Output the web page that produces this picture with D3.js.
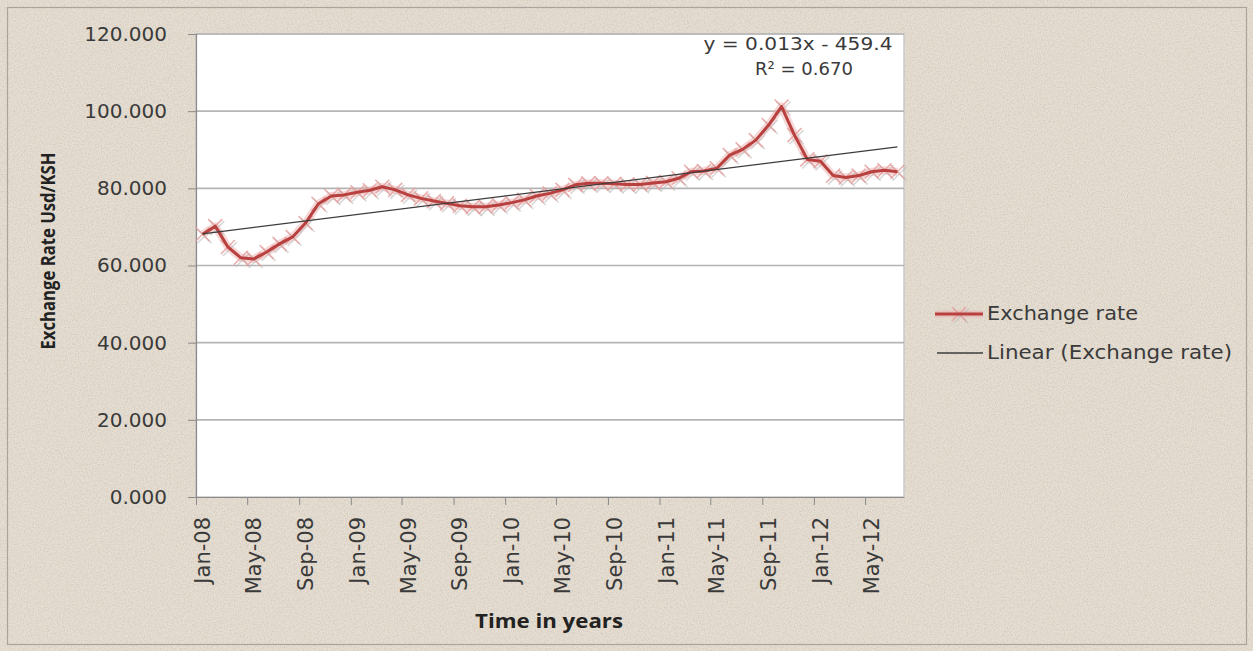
<!DOCTYPE html>
<html><head><meta charset="utf-8">
<script src="https://cdn.jsdelivr.net/npm/d3@7"></script>
<style>html,body{margin:0;padding:0;background:#e6ded2;} svg{display:block}</style>
</head><body>
<svg id="chart" width="1253" height="651"></svg>
<script>
// ---- data ----
const months = [
  "2008-01","2008-02","2008-03","2008-04","2008-05","2008-06","2008-07","2008-08","2008-09","2008-10","2008-11","2008-12",
  "2009-01","2009-02","2009-03","2009-04","2009-05","2009-06","2009-07","2009-08","2009-09","2009-10","2009-11","2009-12",
  "2010-01","2010-02","2010-03","2010-04","2010-05","2010-06","2010-07","2010-08","2010-09","2010-10","2010-11","2010-12",
  "2011-01","2011-02","2011-03","2011-04","2011-05","2011-06","2011-07","2011-08","2011-09","2011-10","2011-11","2011-12",
  "2012-01","2012-02","2012-03","2012-04","2012-05","2012-06","2012-07"
];
const exchangeRate = [
  68.1, 70.2, 64.8, 62.0, 61.7, 63.5, 65.6, 67.4, 71.0, 76.0, 78.0, 78.3,
  79.0, 79.5, 80.4, 79.6, 78.3, 77.4, 76.7, 76.1, 75.5, 75.2, 75.2, 75.7,
  76.3, 77.0, 78.0, 78.7, 79.6, 80.9, 81.3, 81.3, 81.2, 81.0, 81.0, 81.4,
  81.7, 82.6, 84.3, 84.5, 85.2, 88.6, 90.1, 92.5, 96.4, 101.2, 93.8, 87.5,
  87.0, 83.3, 82.8, 83.3, 84.3, 84.7, 84.3
];
const yTickValues = [0, 20, 40, 60, 80, 100, 120];
const xTickLabels = ["Jan-08","May-08","Sep-08","Jan-09","May-09","Sep-09","Jan-10",
                     "May-10","Sep-10","Jan-11","May-11","Sep-11","Jan-12","May-12"];
const equationLines = ["y = 0.013x - 459.4", "R\u00B2 = 0.670"];
const legendLabels = ["Exchange rate", "Linear (Exchange rate)"];
const yTitle = "Exchange Rate Usd/KSH";
const xTitle = "Time in years";

// ---- setup ----
const svg = d3.select("#chart");
const W = 1253, H = 651;
const plot = {left: 196, right: 904, top: 34, bottom: 497};

const defs = svg.append("defs");
const f = defs.append("filter").attr("id","paper").attr("x",0).attr("y",0).attr("width","100%").attr("height","100%");
f.append("feTurbulence").attr("type","fractalNoise").attr("baseFrequency","0.7").attr("numOctaves","2").attr("seed","3").attr("result","n");
f.append("feColorMatrix").attr("type","matrix")
  .attr("values","0 0 0 0 0.45  0 0 0 0 0.40  0 0 0 0 0.33  0 0 0 -1.6 1.0");

svg.append("rect").attr("width",W).attr("height",H).attr("fill","#e6ded2");
svg.append("rect").attr("width",W).attr("height",H).attr("filter","url(#paper)").attr("opacity",0.45);
svg.append("rect").attr("x",7.5).attr("y",7.5).attr("width",1239).attr("height",637)
  .attr("fill","none").attr("stroke","#a9a49c").attr("stroke-width",1.2);

const parseMonth = d3.utcParse("%Y-%m");
const dates = months.map(parseMonth);
const x = d3.scaleUtc()
  .domain([dates[0], d3.utcMonth.offset(dates[dates.length-1], 1)])
  .range([plot.left, plot.right]);
const mid = d => (x(d) + x(d3.utcMonth.offset(d, 1))) / 2;
const y = d3.scaleLinear().domain([0, 120]).range([plot.bottom, plot.top]);

// plot area
svg.append("rect").attr("x",plot.left).attr("y",plot.top)
  .attr("width",plot.right-plot.left).attr("height",plot.bottom-plot.top)
  .attr("fill","#ffffff").attr("stroke","#c9c9c9").attr("stroke-width",1.5);

// gridlines
svg.append("g").selectAll("line").data(yTickValues.filter(v => v > 0)).join("line")
  .attr("x1",plot.left).attr("x2",plot.right)
  .attr("y1",d=>y(d)).attr("y2",d=>y(d))
  .attr("stroke","#b4b4b4").attr("stroke-width",1.6);

// y axis
const yAxis = svg.append("g").attr("transform",`translate(${plot.left},0)`)
  .call(d3.axisLeft(y).tickValues(yTickValues).tickFormat(d3.format(".3f")).tickSize(8).tickPadding(21));
yAxis.select(".domain").attr("stroke","#8a8a8a").attr("stroke-width",1.2);
yAxis.selectAll(".tick line").attr("stroke","#8a8a8a");
yAxis.selectAll("text").attr("font-family","DejaVu Sans").attr("font-size",20).attr("fill","#3a3a3a");

// x axis
const parseTick = d3.utcParse("%b-%y");
const tickDates = xTickLabels.map(parseTick);
const xAxis = svg.append("g").attr("transform",`translate(0,${plot.bottom})`)
  .call(d3.axisBottom(x).tickValues(tickDates).tickFormat("").tickSize(8).tickSizeOuter(0));
xAxis.select(".domain").attr("stroke","#8a8a8a").attr("stroke-width",1.2);
xAxis.selectAll(".tick line").attr("stroke","#8a8a8a");

svg.append("g").selectAll("text").data(tickDates).join("text")
  .attr("transform", (d) => `translate(${mid(d)},${plot.bottom+20}) rotate(-90)`)
  .attr("text-anchor","end").attr("dy","0.36em")
  .attr("font-family","DejaVu Sans").attr("font-size",21).attr("fill","#3a3a3a")
  .text((d,i) => xTickLabels[i]);

// series
const pts = dates.map((d,i) => ({d, v: exchangeRate[i]}));
const line = d3.line().x(p => mid(p.d)).y(p => y(p.v));
svg.append("path").datum(pts).attr("d",line).attr("fill","none")
  .attr("stroke","#eaa9a8").attr("stroke-width",8).attr("stroke-opacity",0.45).attr("stroke-linejoin","round");

const mk = 7;
const xPath = (cx, cy) => `M${cx-mk},${cy-mk}L${cx+mk},${cy+mk}M${cx-mk},${cy+mk}L${cx+mk},${cy-mk}`;
svg.append("g").selectAll("path").data(pts).join("path")
  .attr("d", p => xPath(mid(p.d)+2, y(p.v)+2))
  .attr("stroke","#b9b9b9").attr("stroke-width",1.6).attr("stroke-opacity",0.55).attr("fill","none");
svg.append("g").selectAll("path").data(pts).join("path")
  .attr("d", p => xPath(mid(p.d), y(p.v)))
  .attr("stroke","#e59c9b").attr("stroke-width",1.6).attr("stroke-opacity",0.8).attr("fill","none");

svg.append("path").datum(pts).attr("d",line).attr("fill","none")
  .attr("stroke","#b8403e").attr("stroke-width",3).attr("stroke-linejoin","round");

// linear trend (least squares on Excel serial dates)
const serial = d => (d.getTime() - Date.UTC(1899,11,30)) / 86400000 + 15;
const xs = pts.map(p => serial(p.d)), ys = pts.map(p => p.v);
const mx = d3.mean(xs), my = d3.mean(ys);
const slope = d3.sum(xs.map((xv,i) => (xv-mx)*(ys[i]-my))) / d3.sum(xs.map(xv => (xv-mx)**2));
const icpt = my - slope*mx;
const ends = [pts[0], pts[pts.length-1]];
svg.append("line")
  .attr("x1", mid(ends[0].d)).attr("y1", y(slope*serial(ends[0].d)+icpt))
  .attr("x2", mid(ends[1].d)).attr("y2", y(slope*serial(ends[1].d)+icpt))
  .attr("stroke","#3c3c3c").attr("stroke-width",1.4);

// equation
svg.append("text").attr("x",798).attr("y",44).attr("dy","0.36em").attr("text-anchor","middle")
  .attr("font-family","DejaVu Sans").attr("font-size",18).attr("fill","#3a3a3a")
  .attr("textLength",189).attr("lengthAdjust","spacingAndGlyphs").text(equationLines[0]);
svg.append("text").attr("x",804).attr("y",69).attr("dy","0.36em").attr("text-anchor","middle")
  .attr("font-family","DejaVu Sans").attr("font-size",18).attr("fill","#3a3a3a")
  .attr("textLength",98).attr("lengthAdjust","spacingAndGlyphs").text(equationLines[1]);

// axis titles
svg.append("text").attr("transform","translate(48,251) rotate(-90)").attr("text-anchor","middle").attr("dy","0.36em")
  .attr("font-family","Open Sans").attr("font-weight","bold").attr("font-size",19).attr("fill","#222")
  .attr("textLength",197).attr("lengthAdjust","spacingAndGlyphs").text(yTitle);
svg.append("text").attr("x",549).attr("y",621).attr("text-anchor","middle").attr("dy","0.36em")
  .attr("font-family","Open Sans").attr("font-weight","bold").attr("font-size",19).attr("fill","#222")
  .attr("textLength",148).attr("lengthAdjust","spacingAndGlyphs").text(xTitle);

// legend
const lg = svg.append("g");
lg.append("line").attr("x1",935).attr("x2",983).attr("y1",314).attr("y2",314)
  .attr("stroke","#eaa9a8").attr("stroke-width",7).attr("stroke-opacity",0.45);
lg.append("path").attr("d", xPath(961,316)).attr("stroke","#b9b9b9").attr("stroke-width",1.6).attr("stroke-opacity",0.55);
lg.append("path").attr("d", xPath(959,314)).attr("stroke","#e59c9b").attr("stroke-width",1.6).attr("stroke-opacity",0.8);
lg.append("line").attr("x1",935).attr("x2",983).attr("y1",314).attr("y2",314)
  .attr("stroke","#b8403e").attr("stroke-width",3);
lg.append("line").attr("x1",937).attr("x2",983).attr("y1",353).attr("y2",353)
  .attr("stroke","#3c3c3c").attr("stroke-width",1.4);
const lgLens = [151, 245];
lg.selectAll("text").data(legendLabels).join("text")
  .attr("x",987).attr("y",(d,i)=> i===0 ? 313 : 352).attr("dy","0.36em")
  .attr("font-family","DejaVu Sans").attr("font-size",19).attr("fill","#3a3a3a")
  .attr("textLength",(d,i)=>lgLens[i]).attr("lengthAdjust","spacingAndGlyphs")
  .text(d=>d);
</script>
</body></html>
